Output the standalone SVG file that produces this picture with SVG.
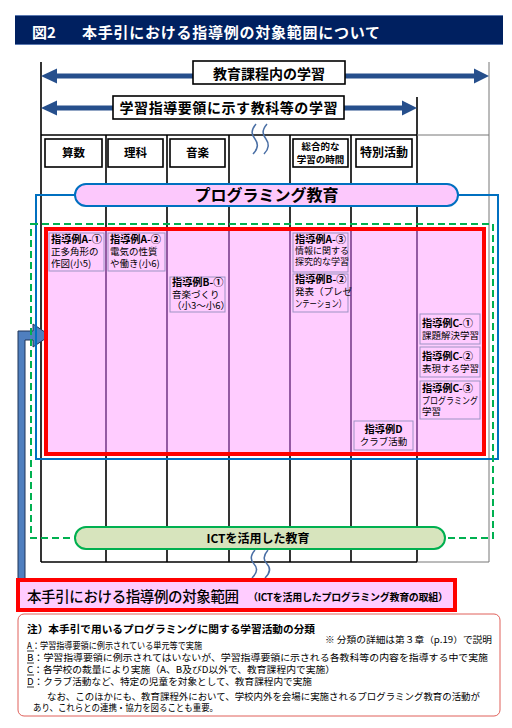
<svg xmlns="http://www.w3.org/2000/svg" width="512" height="728" viewBox="0 0 512 728">
<defs>
<style>
text{font-family:"Noto Sans CJK JP","Noto Sans",sans-serif;fill:#000}
.b{font-weight:bold}
.grid{stroke:#000;stroke-width:1.6;fill:none}
.gray{stroke:#777;stroke-width:1;fill:none}
.pur{stroke:#7a3d8c;stroke-width:1.6;fill:none}
.hbox{fill:#fff;stroke:#000;stroke-width:1.6}
.ibox{fill:#ffccff;stroke:#9d93c4;stroke-width:1}
.it{font-size:10.2px;font-weight:bold}
.is{font-size:9.5px}
.wave{stroke:#4a6fa5;stroke-width:1.5;fill:none}
.arr{fill:#264f8c}
.note{font-size:9.6px}
</style>
</defs>
<rect width="512" height="728" fill="#fff"/>
<g id="title">
<rect x="15" y="15" width="488" height="30" fill="#002060"/>
<line x1="15" y1="15.5" x2="503" y2="15.5" stroke="#5a78b0" stroke-width="1"/>
<line x1="15" y1="44.5" x2="503" y2="44.5" stroke="#5a78b0" stroke-width="1"/>
<text x="32" y="38" class="b" style="font-size:15px;fill:#fff">図2</text>
<text x="82" y="38" class="b" style="font-size:15px;fill:#fff" textLength="298" lengthAdjust="spacing">本手引における指導例の対象範囲について</text>
</g>
<g id="table">
<line class="grid" x1="41" y1="62" x2="41" y2="562"/>
<line class="grid" x1="417" y1="97" x2="417" y2="562"/>
<line class="gray" x1="489" y1="62" x2="489" y2="562"/>
<line class="grid" x1="41" y1="135" x2="417" y2="135"/>
<line class="gray" x1="417" y1="135" x2="489" y2="135"/>
<line class="grid" x1="41" y1="562" x2="417" y2="562"/>
<line class="gray" x1="417" y1="562" x2="489" y2="562"/>
<line class="grid" x1="106" y1="135" x2="106" y2="562"/>
<line class="grid" x1="167" y1="135" x2="167" y2="562"/>
<line class="grid" x1="229" y1="135" x2="229" y2="562"/>
<line class="grid" x1="290" y1="135" x2="290" y2="562"/>
<line class="grid" x1="351" y1="135" x2="351" y2="562"/>
</g>
<g id="subject-sansu"><rect class="hbox" x="45" y="139" width="57" height="28"/><text x="73.5" y="157" class="b" style="font-size:11.5px" text-anchor="middle">算数</text></g>
<g id="subject-rika"><rect class="hbox" x="108" y="139" width="55" height="28"/><text x="135.5" y="157" class="b" style="font-size:11.5px" text-anchor="middle">理科</text></g>
<g id="subject-ongaku"><rect class="hbox" x="170" y="139" width="55" height="28"/><text x="197.5" y="157" class="b" style="font-size:11.5px" text-anchor="middle">音楽</text></g>
<g id="subject-sogo"><rect class="hbox" x="293" y="139" width="55" height="28"/><text x="320.5" y="150" class="b" style="font-size:9.5px" text-anchor="middle">総合的な</text><text x="320.5" y="163" class="b" style="font-size:9.5px" text-anchor="middle">学習の時間</text></g>
<g id="subject-tokkatsu"><rect class="hbox" x="356" y="139" width="56" height="28"/><text x="384" y="157" class="b" style="font-size:12px" text-anchor="middle">特別活動</text></g>
<g id="connectors">
<rect class="arr" x="52" y="73.5" width="426" height="5"/>
<polygon class="arr" points="41,76 57,68.5 57,83.5"/>
<polygon class="arr" points="489,76 474,68.5 474,83.5"/>
<rect class="arr" x="52" y="105.5" width="354" height="5"/>
<polygon class="arr" points="41,108 57,100.5 57,115.5"/>
<polygon class="arr" points="417,108 402,100.5 402,115.5"/>
<path class="wave" d="M256 124 C250 131,252 135,255 139 S259 148,253 154"/>
<path class="wave" d="M267 124 C261 131,263 135,266 139 S270 148,264 154"/>
<path class="wave" d="M255 550 C249 557,251 561,254 564 S258 572,252 578"/>
<path class="wave" d="M268 550 C262 557,264 561,267 564 S271 572,265 578"/>
<polygon points="18,580 18,331 33,331 33,324 50,335.5 33,347 33,340 25,340 25,580" fill="#4f7fbf" stroke="#1f3458" stroke-width="1"/>
</g>
<g id="label-kyoiku-katei"><rect class="hbox" x="193" y="61" width="152" height="23"/><text x="269" y="79" style="font-size:14px;font-weight:bold" text-anchor="middle">教育課程内の学習</text></g>
<g id="label-shido-yoryo"><rect class="hbox" x="113" y="96" width="231" height="23"/><text x="228.5" y="113" style="font-size:14px;font-weight:bold" text-anchor="middle" textLength="218" lengthAdjust="spacing">学習指導要領に示す教科等の学習</text></g>
<g id="programming-area">
<rect x="36" y="195" width="462" height="264" fill="none" stroke="#0070c0" stroke-width="2"/>
</g>
<g id="ict-area">
<rect x="31" y="224" width="462" height="314" fill="none" stroke="#00b050" stroke-width="2" stroke-dasharray="7,4"/>
</g>
<g id="target-range">
<rect x="46" y="229" width="438" height="225" fill="#ffccff"/>
<line class="pur" x1="106" y1="231" x2="106" y2="452"/>
<line class="pur" x1="167" y1="231" x2="167" y2="452"/>
<line class="pur" x1="229" y1="231" x2="229" y2="452"/>
<line class="pur" x1="290" y1="231" x2="290" y2="452"/>
<line class="pur" x1="351" y1="231" x2="351" y2="452"/>
<line class="pur" x1="417" y1="231" x2="417" y2="452"/>
<rect x="46" y="229" width="438" height="225" fill="none" stroke="#ff0000" stroke-width="4"/>
</g>
<g id="ex-a1"><rect class="ibox" x="49" y="233" width="55" height="38"/><text x="51" y="243" class="it">指導例A-①</text><text x="51" y="255" class="is">正多角形の</text><text x="51" y="267" class="is">作図(小5)</text></g>
<g id="ex-a2"><rect class="ibox" x="108" y="233" width="57" height="38"/><text x="110" y="243" class="it">指導例A-②</text><text x="110" y="255" class="is">電気の性質</text><text x="110" y="267" class="is">や働き(小6)</text></g>
<g id="ex-b1"><rect class="ibox" x="170" y="277" width="55" height="35"/><text x="172" y="286" class="it">指導例B-①</text><text x="172" y="298" class="is">音楽づくり</text><text x="172" y="309" class="is">（小3～小6）</text></g>
<g id="ex-a3"><rect class="ibox" x="293" y="233" width="55" height="39"/><text x="295" y="243" class="it">指導例A-③</text><text x="295" y="254" style="font-size:9px">情報に関する</text><text x="295" y="265" style="font-size:9px">探究的な学習</text></g>
<g id="ex-b2"><rect class="ibox" x="293" y="274" width="55" height="38"/><text x="295" y="283" class="it">指導例B-②</text><text x="295" y="295" class="is">発表（プレゼ</text><text x="295" y="307" class="is" textLength="51" lengthAdjust="spacingAndGlyphs">ンテーション）</text></g>
<g id="ex-c1"><rect class="ibox" x="420" y="314" width="60" height="30"/><text x="422" y="327" class="it">指導例C-①</text><text x="422" y="339" class="is">課題解決学習</text></g>
<g id="ex-c2"><rect class="ibox" x="420" y="347" width="60" height="30"/><text x="422" y="360" class="it">指導例C-②</text><text x="422" y="372" class="is">表現する学習</text></g>
<g id="ex-c3"><rect class="ibox" x="420" y="381" width="60" height="38"/><text x="422" y="392" class="it">指導例C-③</text><text x="422" y="404" class="is" textLength="56" lengthAdjust="spacingAndGlyphs">プログラミング</text><text x="422" y="415" class="is">学習</text></g>
<g id="ex-d"><rect class="ibox" x="354" y="421" width="59" height="29"/><text x="383.5" y="433" class="it" text-anchor="middle">指導例D</text><text x="383.5" y="445" class="is" text-anchor="middle">クラブ活動</text></g>
<g id="programming-pill"><rect x="75" y="184" width="383" height="22" rx="11" fill="#fcc8fc" stroke="#0070c0" stroke-width="2"/><text x="266.5" y="201" class="b" style="font-size:16px" text-anchor="middle">プログラミング教育</text></g>
<g id="ict-pill"><rect x="75" y="527" width="370" height="22" rx="11" fill="#d7e4bd" stroke="#00b050" stroke-width="2"/><text x="258" y="542.5" class="b" style="font-size:12px" text-anchor="middle">ICTを活用した教育</text></g>
<g id="range-label"><rect x="18" y="580" width="437" height="30" fill="#ffccff" stroke="#ff0000" stroke-width="4"/><text x="27" y="602" style="font-size:14.5px;font-weight:500" textLength="212" lengthAdjust="spacing">本手引における指導例の対象範囲</text><text x="248" y="601" class="b" style="font-size:10px" textLength="200" lengthAdjust="spacing">（ICTを活用したプログラミング教育の取組）</text></g>
<g id="note">
<rect x="18" y="614" width="482" height="102" rx="6" fill="#fff" stroke="#e0605a" stroke-width="1"/>
<text x="27" y="633" class="b" style="font-size:10.5px" textLength="288" lengthAdjust="spacingAndGlyphs">注）本手引で用いるプログラミングに関する学習活動の分類</text>
<text x="325" y="643" class="note" style="font-size:9px" textLength="167" lengthAdjust="spacingAndGlyphs">※ 分類の詳細は第３章（p.19）で説明</text>
<text x="27" y="649" class="note" textLength="175" lengthAdjust="spacingAndGlyphs">A：学習指導要領に例示されている単元等で実施</text>
<text x="27" y="661" class="note" textLength="461" lengthAdjust="spacingAndGlyphs">B：学習指導要領に例示されてはいないが、学習指導要領に示される各教科等の内容を指導する中で実施</text>
<text x="27" y="673" class="note" textLength="308" lengthAdjust="spacingAndGlyphs">C：各学校の裁量により実施（A、B及びD以外で、教育課程内で実施）</text>
<text x="27" y="685" class="note" textLength="285" lengthAdjust="spacingAndGlyphs">D：クラブ活動など、特定の児童を対象として、教育課程内で実施</text>
<line x1="27" y1="651" x2="34" y2="651" stroke="#000" stroke-width="0.8"/>
<line x1="27" y1="663" x2="34" y2="663" stroke="#000" stroke-width="0.8"/>
<line x1="27" y1="675" x2="34" y2="675" stroke="#000" stroke-width="0.8"/>
<line x1="27" y1="687" x2="34" y2="687" stroke="#000" stroke-width="0.8"/>
<text x="47" y="700" class="note" textLength="433" lengthAdjust="spacingAndGlyphs">なお、このほかにも、教育課程外において、学校内外を会場に実施されるプログラミング教育の活動が</text>
<text x="33" y="711" class="note" textLength="185" lengthAdjust="spacingAndGlyphs">あり、これらとの連携・協力を図ることも重要。</text>
</g>
</svg>
